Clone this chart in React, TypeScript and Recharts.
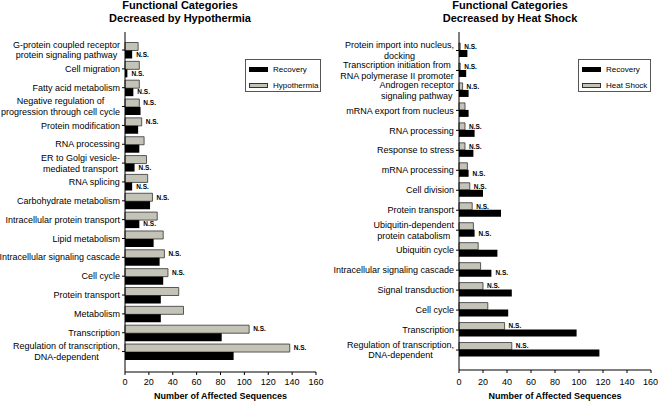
import React from "react";
import { BarChart, Bar, XAxis, YAxis, LabelList } from "recharts";

const FONT = '"Liberation Sans", Arial, sans-serif';

// left panel: hypothermia
const hypoCategories = [
  "G-protein coupled receptor\nprotein signaling pathway",
  "Cell migration",
  "Fatty acid metabolism",
  "Negative regulation of\nprogression through cell cycle",
  "Protein modification",
  "RNA processing",
  "ER to Golgi vesicle-\nmediated transport",
  "RNA splicing",
  "Carbohydrate metabolism",
  "Intracellular protein transport",
  "Lipid metabolism",
  "Intracellular signaling cascade",
  "Cell cycle",
  "Protein transport",
  "Metabolism",
  "Transcription",
  "Regulation of transcription,\nDNA-dependent",
];
const hypothermia = [11, 12, 12, 12, 14, 16, 18, 19, 23, 27, 32, 33, 36, 45, 49, 104, 138];
const hypoRecovery = [6, 2, 7, 13, 11, 12, 8, 6, 21, 12, 24, 29, 32, 30, 30, 81, 91];
// which bar carries the "N.S." mark: T = treatment bar, R = recovery bar
const hypoNs = ["R", "R", "R", "T", "T", "", "R", "R", "T", "R", "", "T", "T", "", "", "T", "T"];

// right panel: heat shock
const hsCategories = [
  "Protein import into nucleus,\ndocking",
  "Transcription initiation from\nRNA polymerase II promoter",
  "Androgen receptor\nsignaling pathway",
  "mRNA export from nucleus",
  "RNA processing",
  "Response to stress",
  "mRNA processing",
  "Cell division",
  "Protein transport",
  "Ubiquitin-dependent\nprotein catabolism",
  "Ubiquitin cycle",
  "Intracellular signaling cascade",
  "Signal transduction",
  "Cell cycle",
  "Transcription",
  "Regulation of transcription,\nDNA-dependent",
];
const heatShock = [1, 1, 3, 5, 5, 5, 7, 9, 11, 12, 16, 18, 20, 24, 38, 44];
const hsRecovery = [7, 6, 8, 8, 13, 12, 8, 20, 35, 13, 32, 27, 44, 41, 98, 117];
const hsNs = ["T", "T", "T", "", "T", "T", "R", "T", "T", "R", "", "R", "T", "", "T", "T"];

const xTicks = [0, 20, 40, 60, 80, 100, 120, 140, 160];

const GRAY = "#c3c3b7";

const buildRows = (cats: string[], treat: number[], rec: number[], ns: string[]) =>
  cats.map((name, i) => ({
    name,
    treat: treat[i],
    recovery: rec[i],
    nsT: ns[i] === "T" ? "N.S." : null,
    nsR: ns[i] === "R" ? "N.S." : null,
  }));

let ctx: CanvasRenderingContext2D | null = null;
const textWidth = (s: string) => {
  if (!ctx) ctx = document.createElement("canvas").getContext("2d");
  if (!ctx) return s.length * 4.5;
  ctx.font = `9px ${FONT}`;
  return ctx.measureText(s).width;
};

const CategoryTick = (props: any) => {
  const { x, y, payload } = props;
  const lines = String(payload.value).split("\n");
  const w = Math.max(...lines.map(textWidth));
  const cx = x - w / 2;
  const lh = 10.5;
  const y0 = y - ((lines.length - 1) * lh) / 2;
  return (
    <text x={cx} y={y0} textAnchor="middle" fontSize={9} fontFamily={FONT} fill="#000">
      {lines.map((l, i) => (
        <tspan key={i} x={cx} y={y0 + i * lh} dy="0.35em">
          {l}
        </tspan>
      ))}
    </text>
  );
};

const nsStyle = { fontSize: 6.5, fontWeight: "bold", fontFamily: FONT, fill: "#000" };

type PanelProps = {
  rows: any[];
  title: string;
  treatName: string;
  left: number;
  yWidth: number;
  marginRight: number;
  xHeight: number;
  tickMargin: number;
  pad: { top: number; bottom: number };
  gap: string;
  legendLeft: number;
  legendWidth: number;
  titleCenter: number;
};

const Panel = (p: PanelProps) => {
  const plotLeft = p.yWidth;
  const plotRight = 329 - p.marginRight;
  return (
    <div style={{ position: "absolute", left: p.left, top: 0, width: 329, height: 402 }}>
      <div
        style={{
          position: "absolute",
          left: p.titleCenter - 150,
          top: -1,
          width: 300,
          textAlign: "center",
          fontSize: 11,
          lineHeight: "13px",
          fontWeight: "bold",
          fontFamily: FONT,
          color: "#000",
        }}
      >
        Functional Categories
        <br />
        {p.title}
      </div>
      <BarChart
        width={329}
        height={402}
        layout="vertical"
        data={p.rows}
        margin={{ top: 32, right: p.marginRight, bottom: 0, left: 0 }}
        barCategoryGap={p.gap}
        barGap={0}
      >
        <XAxis
          type="number"
          domain={[0, 160]}
          ticks={xTicks}
          height={p.xHeight}
          tickSize={3}
          tickMargin={p.tickMargin}
          axisLine={{ stroke: "#000" }}
          tickLine={{ stroke: "#000" }}
          tick={{ fontSize: 9, fontFamily: FONT, fill: "#000" }}
        />
        <YAxis
          type="category"
          dataKey="name"
          width={p.yWidth}
          padding={p.pad}
          interval={0}
          tickSize={3}
          tickMargin={2}
          axisLine={{ stroke: "#000" }}
          tickLine={{ stroke: "#000" }}
          tick={<CategoryTick />}
        />
        <Bar dataKey="treat" fill={GRAY} stroke="#333" strokeWidth={0.8} isAnimationActive={false}>
          <LabelList dataKey="nsT" position="right" offset={4} style={nsStyle} />
        </Bar>
        <Bar dataKey="recovery" fill="#000" isAnimationActive={false}>
          <LabelList dataKey="nsR" position="right" offset={4} style={nsStyle} />
        </Bar>
      </BarChart>
      <div
        style={{
          position: "absolute",
          left: plotLeft,
          width: plotRight - plotLeft,
          top: 390,
          textAlign: "center",
          fontSize: 9,
          lineHeight: "12px",
          fontWeight: "bold",
          fontFamily: FONT,
          color: "#000",
        }}
      >
        Number of Affected Sequences
      </div>
      <div
        style={{
          position: "absolute",
          left: p.legendLeft,
          top: 59,
          width: p.legendWidth,
          height: 33,
          border: "1px solid #555",
          boxSizing: "border-box",
          background: "#fff",
          fontFamily: FONT,
          fontSize: 8,
          color: "#000",
        }}
      >
        {[
          { label: "Recovery", fill: "#000", border: "#000" },
          { label: p.treatName, fill: GRAY, border: "#333" },
        ].map((it, i) => (
          <div
            key={it.label}
            style={{ position: "absolute", left: 3, top: 4 + i * 16, height: 10, display: "flex", alignItems: "center" }}
          >
            <span
              style={{
                display: "inline-block",
                width: 17,
                height: 3,
                background: it.fill,
                border: `1px solid ${it.border}`,
                marginRight: 5,
              }}
            />
            <span>{it.label}</span>
          </div>
        ))}
      </div>
    </div>
  );
};

export default function App() {
  const hypoRows = buildRows(hypoCategories, hypothermia, hypoRecovery, hypoNs);
  const hsRows = buildRows(hsCategories, heatShock, hsRecovery, hsNs);
  return (
    <div style={{ position: "fixed", left: 0, top: 0, width: 658, height: 402, background: "#fff", overflow: "hidden" }}>
      <Panel
        rows={hypoRows}
        title="Decreased by Hypothermia"
        treatName="Hypothermia"
        left={0}
        yWidth={125}
        marginRight={13}
        xHeight={30}
        tickMargin={4}
        pad={{ top: 8.6, bottom: 11 }}
        gap="10%"
        legendLeft={245}
        legendWidth={76}
        titleCenter={180}
      />
      <Panel
        rows={hsRows}
        title="Decreased by Heat Shock"
        treatName="Heat Shock"
        left={329}
        yWidth={130}
        marginRight={7}
        xHeight={32}
        tickMargin={6}
        pad={{ top: 8.5, bottom: 10 }}
        gap="12.5%"
        legendLeft={249}
        legendWidth={73}
        titleCenter={181}
      />
    </div>
  );
}
